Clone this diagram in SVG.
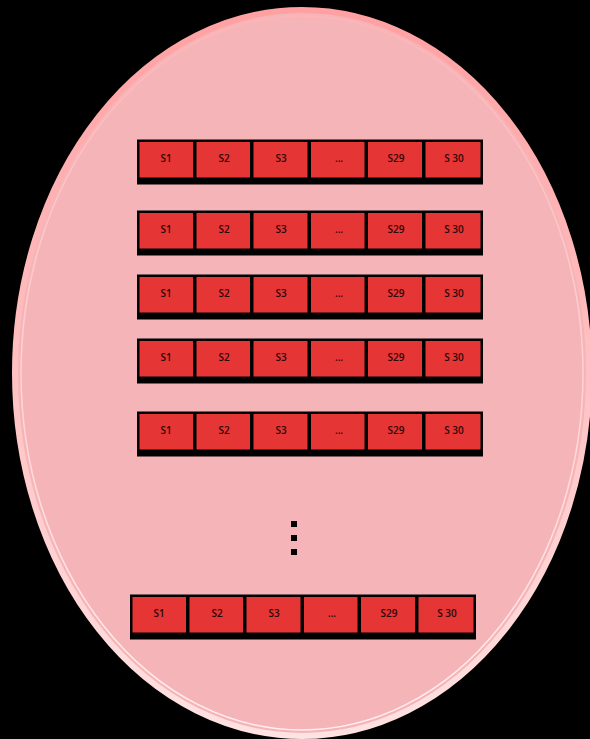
<svg xmlns="http://www.w3.org/2000/svg" width="590" height="739" viewBox="0 0 590 739">
<defs>
<linearGradient id="rim" x1="0" y1="0" x2="0" y2="1">
<stop offset="0" stop-color="#ffa0a2"/>
<stop offset="1" stop-color="#ffe2e2"/>
</linearGradient>
<linearGradient id="rim2" x1="0" y1="0" x2="0" y2="1">
<stop offset="0" stop-color="#ffb4b6"/>
<stop offset="1" stop-color="#fff0f0"/>
</linearGradient>
<g id="row">
<rect x="0" y="0" width="346" height="45" fill="#000"/>
<g class="cell">
<rect x="2.5" y="2.5" width="53.5" height="35.5"/>
<rect x="59.5" y="2.5" width="53.5" height="35.5"/>
<rect x="116.5" y="2.5" width="54" height="35.5"/>
<rect x="174" y="2.5" width="53.5" height="35.5"/>
<rect x="231" y="2.5" width="54" height="35.5"/>
<rect x="288.5" y="2.5" width="55" height="35.5"/>
</g>
<g class="lbl">
<text x="29" y="22">S1</text>
<text x="87" y="22">S2</text>
<text x="144" y="22">S3</text>
<text x="202" y="22">...</text>
<text x="259" y="22">S29</text>
<text x="317" y="22">S 30</text>
</g>
</g>
</defs>
<style>
.cell rect{fill:#e53535;}
.lbl text{font-family:"Open Sans","Liberation Sans",sans-serif;font-size:10px;font-weight:600;fill:#2a0808;text-anchor:middle;}
</style>
<rect width="590" height="739" fill="#000"/>
<g id="ellipse">
<ellipse cx="302" cy="373" rx="287" ry="363" fill="#f5b5b8" stroke="url(#rim)" stroke-width="6"/>
<ellipse cx="302" cy="373" rx="281" ry="357" fill="none" stroke="url(#rim2)" stroke-width="1.5"/>
</g>
<g id="row1"><use href="#row" x="137" y="139.5"/></g>
<g id="row2"><use href="#row" x="137" y="210.5"/></g>
<g id="row3"><use href="#row" x="137" y="274.5"/></g>
<g id="row4"><use href="#row" x="137" y="338.5"/></g>
<g id="row5"><use href="#row" x="137" y="411.5"/></g>
<g id="dots" fill="#000">
<rect x="291" y="521" width="6" height="6"/>
<rect x="291" y="535" width="6" height="6"/>
<rect x="291" y="549" width="6" height="6"/>
</g>
<g id="row6"><use href="#row" x="130" y="594.5"/></g>
<g id="connectors"/>
</svg>
